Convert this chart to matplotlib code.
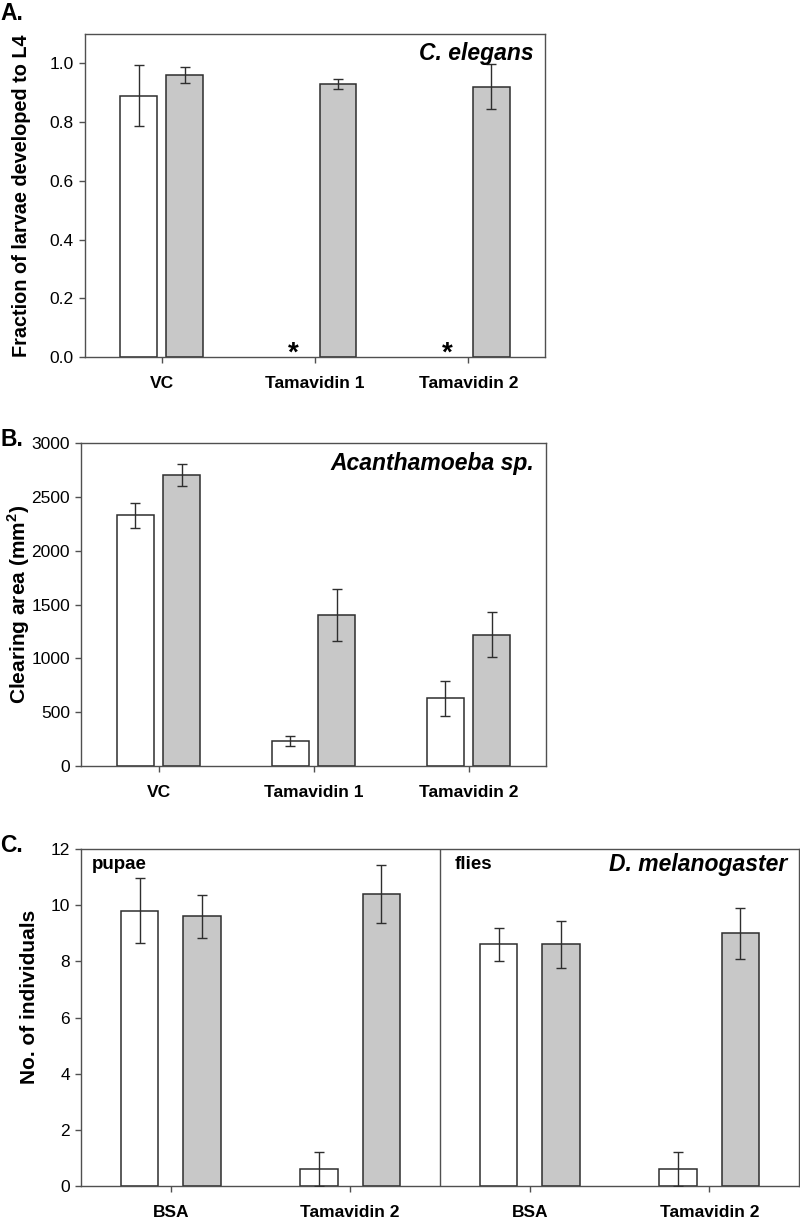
import matplotlib
matplotlib.use('Agg')
import matplotlib.pyplot as plt
import numpy as np

plt.rcParams['font.family'] = ['Liberation Sans', 'DejaVu Sans']
plt.rcParams.update({'font.size': 11})
plt.rcParams['mathtext.fontset'] = 'custom'
plt.rcParams['mathtext.rm'] = 'Liberation Sans'
plt.rcParams['mathtext.bf'] = 'Liberation Sans:bold'

# Panel A - C. elegans
cat_a = ['VC', 'Tamavidin 1', 'Tamavidin 2']
a_white = [0.89, 0.0, 0.0]
a_white_err = [0.104, 0.0, 0.0]
a_grey = [0.96, 0.93, 0.92]
a_grey_err = [0.027, 0.016, 0.077]
a_star = [False, True, True]

# Panel B - Acanthamoeba
cat_b = ['VC', 'Tamavidin 1', 'Tamavidin 2']
b_white = [2330, 232, 630]
b_white_err = [115, 45, 162]
b_grey = [2705, 1405, 1218]
b_grey_err = [103, 240, 208]

# Panel C - D. melanogaster (pupae | flies)
cat_c = ['BSA', 'Tamavidin 2', 'BSA', 'Tamavidin 2']
c_white = [9.8, 0.6, 8.6, 0.6]
c_white_err = [1.16, 0.6, 0.6, 0.6]
c_grey = [9.6, 10.4, 8.6, 9.0]
c_grey_err = [0.76, 1.03, 0.82, 0.9]

EDGE = '#2e2e2e'
SPINE = '#505050'
GREY = '#c8c8c8'


def style_axes(ax):
    for s in ax.spines.values():
        s.set_color(SPINE)
        s.set_linewidth(1.0)
    ax.tick_params(axis='y', direction='out', length=4, width=1, color=SPINE,
                   pad=4, labelsize=12.5)
    ax.tick_params(axis='x', direction='out', length=4, width=1, color=SPINE,
                   pad=10)
    for lab in ax.get_xticklabels():
        lab.set_fontweight('bold')
        lab.set_fontsize(12.5)


def draw_bars(ax, white, white_err, grey, grey_err, off, w):
    x = np.arange(len(white))
    white = np.array(white, dtype=float)
    keep = white > 0
    ax.bar(x[keep] - off, white[keep], w, color='white', edgecolor=EDGE, linewidth=1.1, zorder=2)
    ax.bar(x + off, grey, w, color=GREY, edgecolor=EDGE, linewidth=1.1, zorder=2)
    ax.errorbar(x[keep] - off, white[keep], yerr=np.array(white_err)[keep], fmt='none',
                ecolor=EDGE, elinewidth=1.0, capsize=3.6, capthick=1.0, zorder=3)
    ax.errorbar(x + off, grey, yerr=grey_err, fmt='none',
                ecolor=EDGE, elinewidth=1.0, capsize=3.6, capthick=1.0, zorder=3)


fig = plt.figure(figsize=(8, 12.18), dpi=100)

# ---- A ----
axA = fig.add_axes([85 / 800, 1 - 357 / 1218, 460 / 800, 323 / 1218])
draw_bars(axA, a_white, a_white_err, a_grey, a_grey_err, 0.15, 0.24)
for i, s in enumerate(a_star):
    if s:
        axA.text(i - 0.14, -0.032, '*', ha='center', va='bottom', fontsize=20, fontweight='bold')
axA.set_xlim(-0.5, 2.5)
axA.set_ylim(0, 1.1)
axA.set_xticks(range(len(cat_a)))
axA.set_xticklabels(cat_a)
axA.set_yticks([0.0, 0.2, 0.4, 0.6, 0.8, 1.0])
axA.set_yticklabels(['0.0', '0.2', '0.4', '0.6', '0.8', '1.0'])
axA.set_ylabel('Fraction of larvae developed to L4', fontsize=14.3, fontweight='bold')
axA.yaxis.set_label_coords(-0.117, 0.5)
axA.text(0.976, 0.975, 'C. elegans', transform=axA.transAxes, ha='right', va='top',
         fontsize=16.5, fontweight='bold', style='italic')
style_axes(axA)

# ---- B ----
axB = fig.add_axes([81 / 800, 1 - 766 / 1218, 465 / 800, 323 / 1218])
draw_bars(axB, b_white, b_white_err, b_grey, b_grey_err, 0.15, 0.24)
axB.set_xlim(-0.5, 2.5)
axB.set_ylim(0, 3000)
axB.set_xticks(range(len(cat_b)))
axB.set_xticklabels(cat_b)
axB.set_yticks(range(0, 3001, 500))
axB.set_ylabel('Clearing area (mm$^{\\mathbf{2}}$)', fontsize=15, fontweight='bold')
axB.yaxis.set_label_coords(-0.106, 0.5)
axB.text(0.974, 0.938, 'Acanthamoeba sp.', transform=axB.transAxes, ha='right', va='center',
         fontsize=16.5, fontweight='bold', style='italic')
style_axes(axB)

# ---- C ----
axC = fig.add_axes([81 / 800, 1 - 1186 / 1218, 718 / 800, 337 / 1218])
draw_bars(axC, c_white, c_white_err, c_grey, c_grey_err, 0.174, 0.21)
axC.axvline(1.5, color=SPINE, linewidth=1.0)
axC.set_xlim(-0.5, 3.5)
axC.set_ylim(0, 12)
axC.set_xticks(range(len(cat_c)))
axC.set_xticklabels(cat_c)
axC.set_yticks(range(0, 13, 2))
axC.set_ylabel('No. of individuals', fontsize=15, fontweight='bold')
axC.yaxis.set_label_coords(-0.058, 0.56)
axC.text(0.015, 0.955, 'pupae', transform=axC.transAxes, ha='left', va='center',
         fontsize=13.5, fontweight='bold')
axC.text(0.521, 0.955, 'flies', transform=axC.transAxes, ha='left', va='center',
         fontsize=13.5, fontweight='bold')
axC.text(0.983, 0.955, 'D. melanogaster', transform=axC.transAxes, ha='right', va='center',
         fontsize=16.5, fontweight='bold', style='italic')
style_axes(axC)

# panel letters
fig.text(0.0, 1 - 13 / 1218, 'A.', ha='left', va='center', fontsize=16.5, fontweight='bold')
fig.text(0.0, 1 - 439 / 1218, 'B.', ha='left', va='center', fontsize=16.5, fontweight='bold')
fig.text(0.0, 1 - 846 / 1218, 'C.', ha='left', va='center', fontsize=16.5, fontweight='bold')

fig.savefig('out.png', dpi=100)
plt.close(fig)
